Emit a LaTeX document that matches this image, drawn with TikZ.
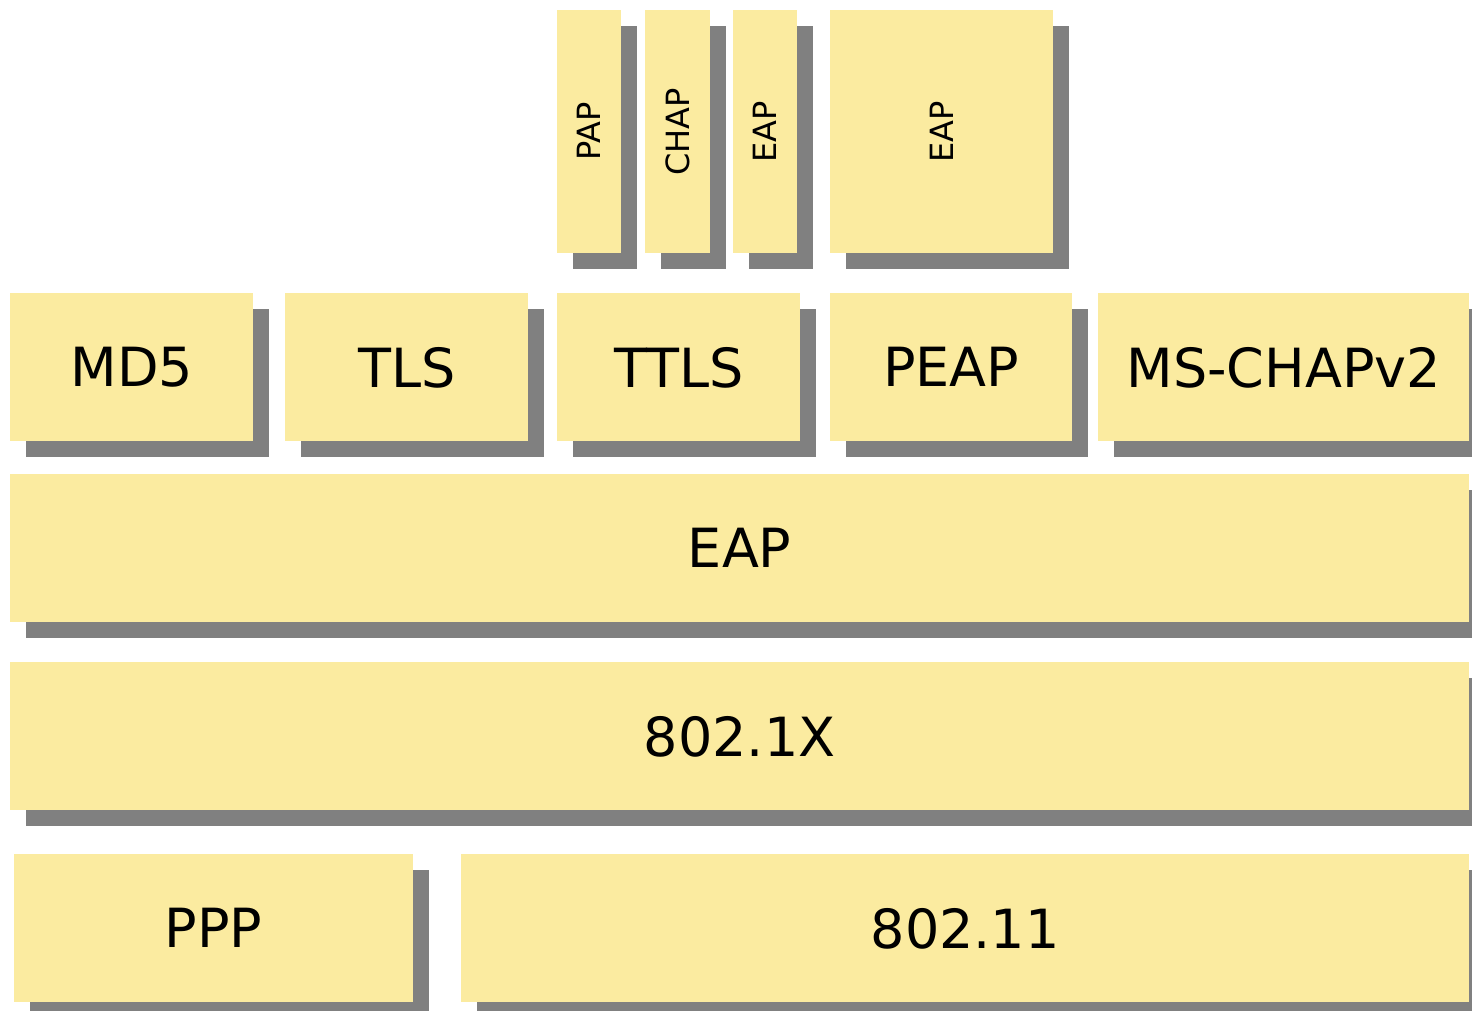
\documentclass[tikz,border=0pt]{standalone}
\usepackage{fontspec}
\setmainfont{DejaVu Sans}
\usetikzlibrary{shadows}
\definecolor{layerfill}{RGB}{251,235,160}
\definecolor{layershadow}{RGB}{128,128,128}
\begin{document}
\begin{tikzpicture}[x=1pt,y=-1pt,
  layer/.style={anchor=north west,fill=layerfill,inner sep=0pt,
    font=\fontsize{54}{60}\selectfont,text depth=0pt,
    drop shadow={shadow xshift=16pt,shadow yshift=-16pt,fill=layershadow,opacity=1}},
  sublayer/.style={layer,font=\fontsize{32}{36}\selectfont,minimum height=243pt}]
\useasboundingbox (0,0) rectangle (1472,1011);
% inner methods
\node[sublayer,minimum width=64pt](pap)at(557,10){\rotatebox{90}{PAP}};
\node[sublayer,minimum width=65pt](chap)at(645,10){\rotatebox{90}{CHAP}};
\node[sublayer,minimum width=64pt](ttlseap)at(733,10){\rotatebox{90}{EAP}};
\node[sublayer,minimum width=223pt](peapeap)at(830,10){\rotatebox{90}{EAP}};
% EAP methods
\node[layer,minimum width=243pt,minimum height=148pt](md5)at(10,293){MD5};
\node[layer,minimum width=243pt,minimum height=148pt](tls)at(285,293){TLS};
\node[layer,minimum width=243pt,minimum height=148pt](ttls)at(557,293){TTLS};
\node[layer,minimum width=242pt,minimum height=148pt](peap)at(830,293){PEAP};
\node[layer,minimum width=371pt,minimum height=148pt](mschap)at(1098,293){MS-CHAPv2};
% EAP and below
\node[layer,minimum width=1459pt,minimum height=148pt](eap)at(10,474){EAP};
\node[layer,minimum width=1459pt,minimum height=148pt](dotx)at(10,662){802.1X};
\node[layer,minimum width=399pt,minimum height=148pt](ppp)at(14,854){PPP};
\node[layer,minimum width=1008pt,minimum height=148pt](wlan)at(461,854){802.11};
\end{tikzpicture}
\end{document}
